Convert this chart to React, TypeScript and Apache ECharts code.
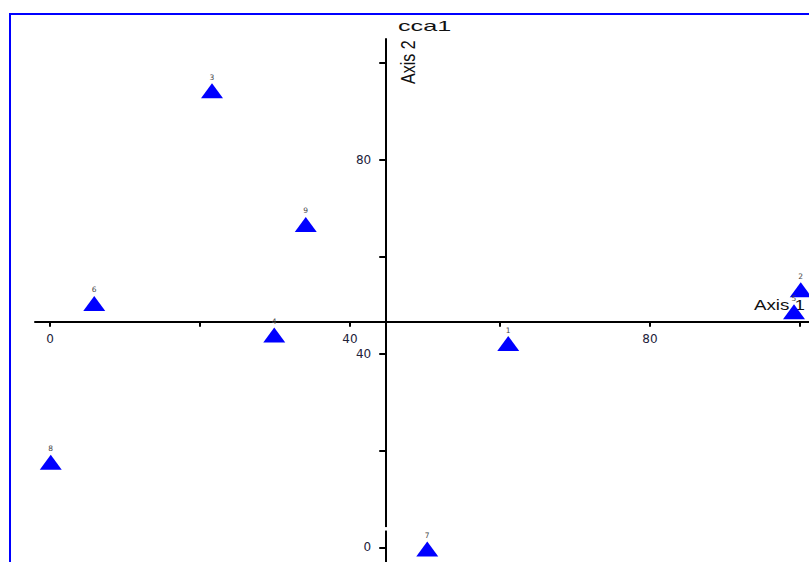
import React, { useEffect, useRef } from "react";
import * as echarts from "echarts";

// Site labels and their scores on the two ordination axes
const siteNames = ["1", "2", "3", "4", "5", "6", "7", "8", "9"];
const axis1Scores = [61.1, 100.1, 21.6, 29.9, 99.2, 5.9, 50.3, 0.1, 34.1];
const axis2Scores = [42.1, 53.2, 94.3, 43.9, 48.7, 50.4, -0.3, 17.6, 66.7];

// Tick marks and labelled ticks
const xTickValues = [0, 20, 40, 60, 80, 100];
const xLabelValues = [0, 40, 80];
const yTickValues = [0, 20, 40, 60, 80, 100];
const yLabelValues = [0, 40, 80];

// Where the axes cross each other (data units)
const xAxisCrossAtY = 46.6;
const yAxisCrossAtX = 44.7;
const yBreakAt = 3.8;

const chartTitle = "cca1";
const xAxisTitle = "Axis 1";
const yAxisTitle = "Axis 2";

const xMin = -2;
const xMax = 102;
const yMin = -3;
const yMax = 105;

export default function App() {
  const ref = useRef<HTMLDivElement>(null);

  useEffect(() => {
    if (!ref.current) return;
    const chart = echarts.init(ref.current, null, { renderer: "svg" });
    const data = axis1Scores.map((x, i) => ({ name: siteNames[i], value: [x, axis2Scores[i]] }));
    const labelColor = "#22223a";
    chart.setOption({
      animation: false,
      grid: { left: 35, right: -6, top: 39, bottom: 0, containLabel: false, outerBoundsMode: "none" },
      xAxis: {
        type: "value",
        min: xMin,
        max: xMax,
        position: "bottom",
        splitLine: { show: false },
        axisLine: { show: true, onZero: false, lineStyle: { color: "#000", width: 2 } },
        axisTick: { show: true, customValues: xTickValues, length: 5, lineStyle: { color: "#000", width: 2 } },
        axisLabel: {
          customValues: xLabelValues,
          margin: 11,
          fontSize: 12,
          fontFamily: "DejaVu Sans",
          color: labelColor,
        },
      },
      yAxis: {
        type: "value",
        min: yMin,
        max: yMax,
        position: "left",
        splitLine: { show: false },
        axisLine: { show: true, onZero: false, lineStyle: { color: "#000", width: 2 } },
        axisTick: { show: true, customValues: yTickValues, length: 6, lineStyle: { color: "#000", width: 2 } },
        axisLabel: {
          customValues: yLabelValues,
          margin: 14,
          fontSize: 12,
          fontFamily: "DejaVu Sans",
          color: labelColor,
        },
      },
      series: [
        {
          type: "scatter",
          z: 5,
          data,
          symbol: "triangle",
          symbolSize: [22, 15],
          itemStyle: { color: "#0000ff", opacity: 1 },
          clip: false,
          label: {
            show: true,
            position: "top",
            distance: 2,
            formatter: (p: any) => p.name,
            fontSize: 7.5,
            fontFamily: "DejaVu Sans",
            color: "#444",
          },
        },
      ],
    });

    const gridBottomPx = chart.convertToPixel({ yAxisIndex: 0 }, yMin) as number;
    const crossYpx = chart.convertToPixel({ yAxisIndex: 0 }, xAxisCrossAtY) as number;
    const gridLeftPx = chart.convertToPixel({ xAxisIndex: 0 }, xMin) as number;
    const crossXpx = chart.convertToPixel({ xAxisIndex: 0 }, yAxisCrossAtX) as number;
    const breakPx = chart.convertToPixel({ yAxisIndex: 0 }, yBreakAt) as number;

    chart.setOption({
      xAxis: { offset: -(gridBottomPx - crossYpx) },
      yAxis: { offset: -(crossXpx - gridLeftPx) },
      graphic: [
        {
          type: "rect",
          z: 100,
          shape: { x: crossXpx - 8, y: breakPx - 2, width: 12, height: 3.5 },
          style: { fill: "#fff" },
        },
        {
          type: "rect",
          z: 100,
          shape: { x: 10, y: 14, width: 1000, height: 800 },
          style: { fill: "none", stroke: "#0000ff", lineWidth: 2 },
        },
        {
          type: "text",
          z: 100,
          x: 398,
          y: 26.5,
          scaleX: 1.8,
          style: {
            text: chartTitle,
            font: "14px 'Liberation Sans'",
            fill: "#111",
            align: "left",
            verticalAlign: "middle",
          },
        },
        {
          type: "text",
          z: 100,
          x: 407.5,
          y: 84,
          rotation: Math.PI / 2,
          scaleY: 1.3,
          style: {
            text: yAxisTitle,
            font: "16px 'Liberation Sans'",
            fill: "#111",
            align: "left",
            verticalAlign: "middle",
          },
        },
        {
          type: "text",
          z: 1,
          x: 754,
          y: 305.5,
          scaleX: 1.25,
          style: {
            text: xAxisTitle,
            font: "15px 'Liberation Sans'",
            fill: "#111",
            align: "left",
            verticalAlign: "middle",
          },
        },
      ],
    });

    return () => chart.dispose();
  }, []);

  return (
    <div
      ref={ref}
      style={{ position: "absolute", left: 0, top: 0, width: 809, height: 562, background: "#fff" }}
    />
  );
}
